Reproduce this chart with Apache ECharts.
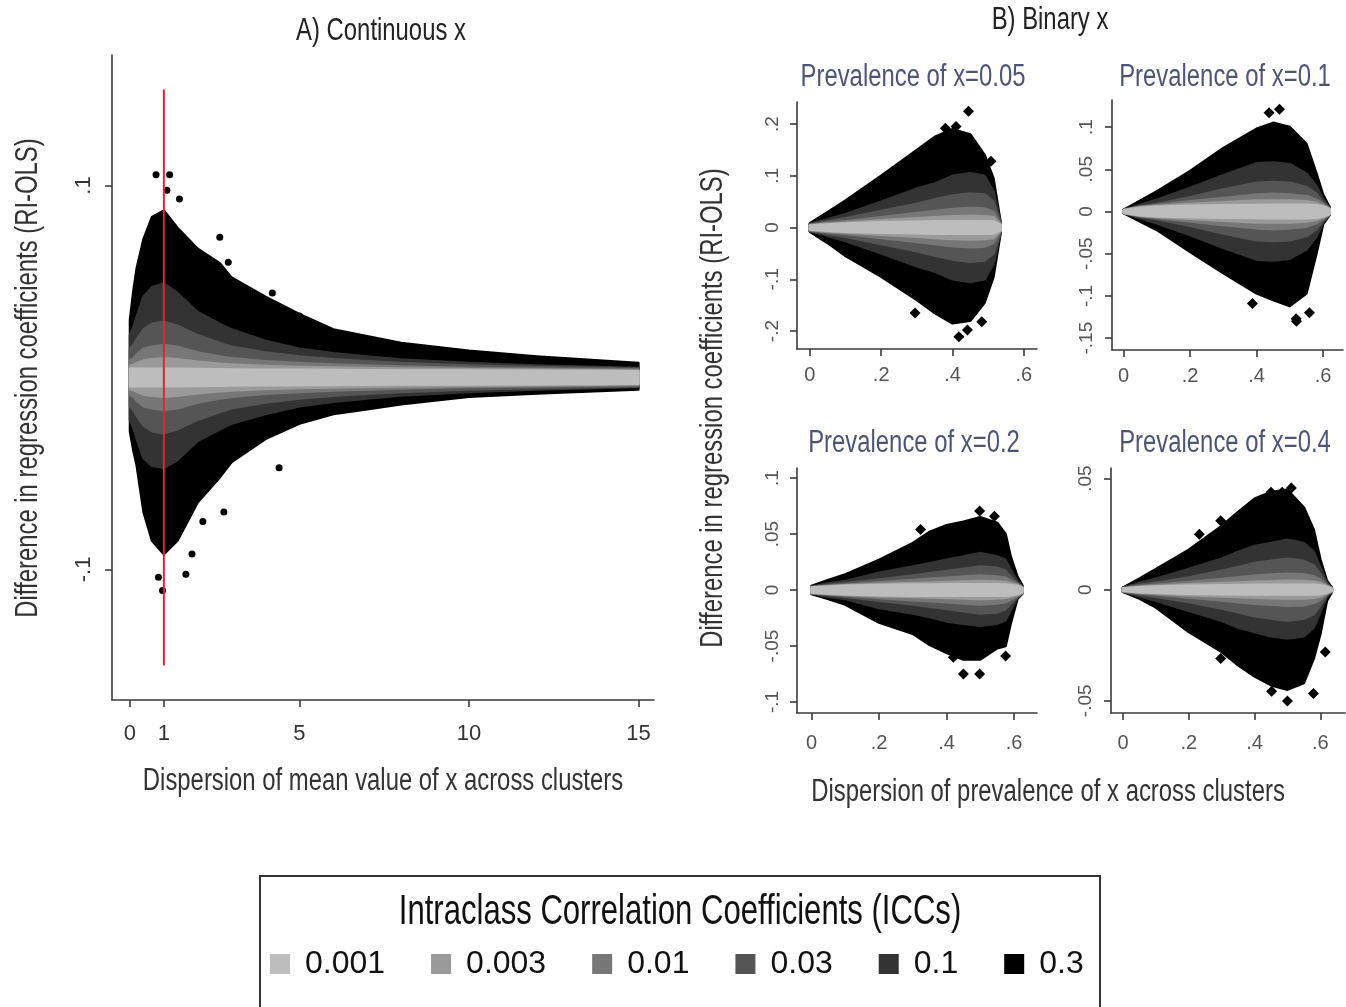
<!DOCTYPE html>
<html>
<head>
<meta charset="utf-8">
<script src="https://cdn.jsdelivr.net/npm/echarts@6/dist/echarts.min.js"></script>
<style>html,body{margin:0;padding:0;background:#fff}#c{width:1346px;height:1007px}</style>
</head>
<body>
<div id="c"></div>
<script>
// ---------- DATA ----------
const iccNames  = ['0.001', '0.003', '0.01', '0.03', '0.1', '0.3'];
const iccColors = ['#bdbdbd', '#9a9a9a', '#777777', '#555555', '#333333', '#000000'];

// Panel A (continuous x): envelopes [lower, upper] of each ICC cloud
const contX = [0, 0.1, 0.2, 0.4, 0.65, 1, 1.4, 2, 2.65, 3, 4, 5, 6, 7, 8, 10, 12, 15];
const cont_0_3 = [[-0.028,0.03],[-0.038,0.045],[-0.046,0.057],[-0.07,0.072],[-0.085,0.0835],[-0.092,0.087],[-0.085,0.078],[-0.065,0.067],[-0.052,0.0595],[-0.044,0.052],[-0.032,0.042],[-0.024,0.033],[-0.019,0.025],[-0.0165,0.0215],[-0.014,0.018],[-0.010,0.014],[-0.0084,0.011],[-0.0063,0.0076]];
const cont_0_1 = [[-0.022,0.022],[-0.026,0.026],[-0.032,0.032],[-0.042,0.042],[-0.046,0.047],[-0.047,0.049],[-0.043,0.044],[-0.033,0.034],[-0.027,0.028],[-0.024,0.025],[-0.019,0.019],[-0.015,0.015],[-0.0127,0.0127],[-0.011,0.011],[-0.0094,0.0094],[-0.0076,0.0076],[-0.0063,0.0063],[-0.005,0.005]];
const cont_0_03 = [[-0.015,0.015],[-0.017,0.017],[-0.02,0.02],[-0.025,0.025],[-0.028,0.028],[-0.029,0.029],[-0.027,0.027],[-0.022,0.022],[-0.018,0.018],[-0.016,0.016],[-0.013,0.013],[-0.011,0.011],[-0.0095,0.0095],[-0.0085,0.0085],[-0.0075,0.0075],[-0.0062,0.0062],[-0.0055,0.0055],[-0.0045,0.0045]];
const cont_0_01 = [[-0.009,0.009],[-0.01,0.01],[-0.012,0.012],[-0.015,0.015],[-0.016,0.016],[-0.017,0.017],[-0.016,0.016],[-0.013,0.013],[-0.011,0.011],[-0.01,0.01],[-0.0085,0.0085],[-0.0075,0.0075],[-0.0068,0.0068],[-0.0062,0.0062],[-0.0057,0.0057],[-0.005,0.005],[-0.0046,0.0046],[-0.004,0.004]];
const cont_0_003 = [[-0.006,0.006],[-0.0065,0.0065],[-0.0075,0.0075],[-0.0088,0.0088],[-0.0095,0.0095],[-0.01,0.01],[-0.0095,0.0095],[-0.0082,0.0082],[-0.0072,0.0072],[-0.0068,0.0068],[-0.006,0.006],[-0.0055,0.0055],[-0.0052,0.0052],[-0.005,0.005],[-0.0047,0.0047],[-0.0043,0.0043],[-0.004,0.004],[-0.0035,0.0035]];
const cont_0_001 = [[-0.0045,0.0045],[-0.0045,0.0045],[-0.0045,0.0045],[-0.0046,0.0046],[-0.0046,0.0046],[-0.0046,0.0046],[-0.0045,0.0045],[-0.0044,0.0044],[-0.0043,0.0043],[-0.0042,0.0042],[-0.004,0.004],[-0.004,0.004],[-0.0039,0.0039],[-0.0038,0.0038],[-0.0037,0.0037],[-0.0036,0.0036],[-0.0035,0.0035],[-0.0033,0.0033]];
const contOutliers = [[0.77,0.1056],[1.17,0.1056],[1.09,0.0975],[1.46,0.093],[2.65,0.073],[2.9,0.06],[4.2,0.044],[5.0,0.032],[0.96,-0.111],[0.84,-0.104],[1.65,-0.1025],[1.83,-0.092],[2.15,-0.075],[2.77,-0.07],[4.4,-0.047]];
const redLine = [[1, -0.15], [1, 0.15]];

// Panel B, prevalence 0.05
const p05X = [0, 0.05, 0.1, 0.2, 0.3, 0.35, 0.4, 0.45, 0.49, 0.515, 0.535];
const p05_0_3 = [[-0.008,0.008],[-0.03,0.03],[-0.055,0.052],[-0.095,0.1],[-0.14,0.15],[-0.165,0.175],[-0.185,0.19],[-0.18,0.18],[-0.145,0.14],[-0.095,0.095],[-0.01,0.01]];
const p05_0_1 = [[-0.007,0.007],[-0.016,0.016],[-0.026,0.026],[-0.05,0.05],[-0.075,0.075],[-0.085,0.085],[-0.1,0.1],[-0.105,0.105],[-0.1,0.1],[-0.07,0.07],[-0.01,0.01]];
const p05_0_03 = [[-0.006,0.006],[-0.012,0.012],[-0.018,0.018],[-0.032,0.032],[-0.046,0.046],[-0.054,0.054],[-0.062,0.062],[-0.066,0.066],[-0.064,0.064],[-0.05,0.05],[-0.008,0.008]];
const p05_0_01 = [[-0.005,0.005],[-0.009,0.009],[-0.012,0.012],[-0.02,0.02],[-0.028,0.028],[-0.032,0.032],[-0.036,0.036],[-0.038,0.038],[-0.037,0.037],[-0.03,0.03],[-0.007,0.007]];
const p05_0_003 = [[-0.0045,0.0045],[-0.0075,0.0075],[-0.0095,0.0095],[-0.014,0.014],[-0.018,0.018],[-0.02,0.02],[-0.022,0.022],[-0.023,0.023],[-0.022,0.022],[-0.02,0.02],[-0.006,0.006]];
const p05_0_001 = [[-0.004,0.004],[-0.006,0.006],[-0.008,0.008],[-0.01,0.01],[-0.011,0.011],[-0.012,0.012],[-0.012,0.012],[-0.012,0.012],[-0.012,0.012],[-0.012,0.012],[-0.005,0.005]];
const p05Outliers = [[0.445,0.2245],[0.38,0.192],[0.41,0.195],[0.508,0.128],[0.295,-0.165],[0.418,-0.211],[0.442,-0.198],[0.482,-0.182]];

// Panel B, prevalence 0.1
const p10X = [0, 0.05, 0.1, 0.2, 0.3, 0.4, 0.45, 0.5, 0.55, 0.58, 0.6, 0.62];
const p10_0_3 = [[-0.002,0.002],[-0.012,0.013],[-0.022,0.024],[-0.048,0.048],[-0.073,0.075],[-0.097,0.098],[-0.105,0.105],[-0.112,0.1],[-0.097,0.08],[-0.05,0.045],[-0.015,0.02],[-0.004,0.005]];
const p10_0_1 = [[-0.002,0.002],[-0.008,0.008],[-0.014,0.014],[-0.028,0.028],[-0.043,0.043],[-0.057,0.057],[-0.058,0.058],[-0.056,0.056],[-0.045,0.045],[-0.03,0.03],[-0.013,0.015],[-0.004,0.004]];
const p10_0_03 = [[-0.002,0.002],[-0.006,0.006],[-0.009,0.009],[-0.017,0.017],[-0.026,0.026],[-0.034,0.034],[-0.035,0.035],[-0.034,0.034],[-0.029,0.029],[-0.021,0.021],[-0.011,0.011],[-0.0035,0.0035]];
const p10_0_01 = [[-0.0018,0.0018],[-0.0055,0.0055],[-0.0075,0.0075],[-0.012,0.012],[-0.016,0.016],[-0.02,0.02],[-0.021,0.021],[-0.02,0.02],[-0.018,0.018],[-0.014,0.014],[-0.009,0.009],[-0.0032,0.0032]];
const p10_0_003 = [[-0.0016,0.0016],[-0.005,0.005],[-0.0065,0.0065],[-0.009,0.009],[-0.011,0.011],[-0.013,0.013],[-0.013,0.013],[-0.013,0.013],[-0.012,0.012],[-0.01,0.01],[-0.007,0.007],[-0.003,0.003]];
const p10_0_001 = [[-0.0015,0.0015],[-0.0045,0.0045],[-0.0055,0.0055],[-0.0068,0.0068],[-0.0074,0.0074],[-0.0078,0.0078],[-0.008,0.008],[-0.008,0.008],[-0.008,0.008],[-0.0075,0.0075],[-0.006,0.006],[-0.0028,0.0028]];
const p10Outliers = [[0.469,0.121],[0.4375,0.117],[0.519,-0.127],[0.52,-0.13],[0.559,-0.12],[0.3875,-0.109]];

// Panel B, prevalence 0.2
const p20X = [0, 0.05, 0.1, 0.2, 0.3, 0.35, 0.4, 0.45, 0.5, 0.55, 0.575, 0.59, 0.61, 0.625];
const p20_0_3 = [[-0.0036,0.0036],[-0.008,0.009],[-0.013,0.014],[-0.029,0.027],[-0.039,0.042],[-0.049,0.052],[-0.056,0.058],[-0.062,0.061],[-0.062,0.065],[-0.052,0.06],[-0.05,0.05],[-0.03,0.03],[-0.008,0.012],[-0.003,0.004]];
const p20_0_1 = [[-0.003,0.003],[-0.006,0.006],[-0.008,0.008],[-0.016,0.0155],[-0.021,0.021],[-0.024,0.024],[-0.028,0.027],[-0.03,0.03],[-0.032,0.033],[-0.03,0.03],[-0.027,0.027],[-0.018,0.018],[-0.007,0.008],[-0.003,0.003]];
const p20_0_03 = [[-0.0028,0.0028],[-0.0045,0.0045],[-0.006,0.006],[-0.0095,0.0095],[-0.013,0.013],[-0.015,0.015],[-0.017,0.017],[-0.019,0.019],[-0.021,0.021],[-0.02,0.02],[-0.017,0.017],[-0.012,0.012],[-0.006,0.006],[-0.0025,0.0025]];
const p20_0_01 = [[-0.0026,0.0026],[-0.0038,0.0038],[-0.0048,0.0048],[-0.007,0.007],[-0.009,0.009],[-0.01,0.01],[-0.011,0.011],[-0.012,0.012],[-0.013,0.013],[-0.012,0.012],[-0.011,0.011],[-0.0085,0.0085],[-0.0055,0.0055],[-0.0024,0.0024]];
const p20_0_003 = [[-0.0024,0.0024],[-0.0035,0.0035],[-0.0042,0.0042],[-0.0055,0.0055],[-0.0062,0.0062],[-0.0066,0.0066],[-0.0072,0.0072],[-0.0076,0.0076],[-0.008,0.008],[-0.0076,0.0076],[-0.0072,0.0072],[-0.006,0.006],[-0.0045,0.0045],[-0.0022,0.0022]];
const p20_0_001 = [[-0.0022,0.0022],[-0.003,0.003],[-0.0038,0.0038],[-0.0046,0.0046],[-0.005,0.005],[-0.005,0.005],[-0.0052,0.0052],[-0.0052,0.0052],[-0.0052,0.0052],[-0.0052,0.0052],[-0.005,0.005],[-0.0046,0.0046],[-0.0036,0.0036],[-0.002,0.002]];
const p20Outliers = [[0.498,0.0705],[0.542,0.066],[0.323,0.054],[0.45,-0.075],[0.498,-0.075],[0.575,-0.059],[0.42,-0.06]];

// Panel B, prevalence 0.4
const p40X = [0, 0.05, 0.1, 0.2, 0.3, 0.35, 0.4, 0.45, 0.5, 0.55, 0.58, 0.6, 0.62, 0.635];
const p40_0_3 = [[-0.001,0.001],[-0.004,0.005],[-0.008,0.0093],[-0.019,0.018],[-0.028,0.0287],[-0.034,0.035],[-0.039,0.041],[-0.043,0.044],[-0.045,0.045],[-0.042,0.037],[-0.031,0.027],[-0.02,0.0137],[-0.005,0.004],[-0.001,0.001]];
const p40_0_1 = [[-0.0009,0.0009],[-0.003,0.003],[-0.005,0.005],[-0.0095,0.0093],[-0.014,0.014],[-0.017,0.017],[-0.019,0.0197],[-0.021,0.021],[-0.022,0.0225],[-0.021,0.021],[-0.017,0.017],[-0.01,0.01],[-0.003,0.003],[-0.001,0.001]];
const p40_0_03 = [[-0.0008,0.0008],[-0.0022,0.0022],[-0.0032,0.0032],[-0.0055,0.0055],[-0.0085,0.0085],[-0.0102,0.0102],[-0.012,0.012],[-0.013,0.013],[-0.014,0.014],[-0.013,0.013],[-0.011,0.011],[-0.007,0.007],[-0.0025,0.0025],[-0.0008,0.0008]];
const p40_0_01 = [[-0.0007,0.0007],[-0.0016,0.0016],[-0.0022,0.0022],[-0.0035,0.0035],[-0.0048,0.0048],[-0.0056,0.0056],[-0.0063,0.0063],[-0.0068,0.0068],[-0.0072,0.0072],[-0.007,0.007],[-0.006,0.006],[-0.0045,0.0045],[-0.002,0.002],[-0.0007,0.0007]];
const p40_0_003 = [[-0.0006,0.0006],[-0.0013,0.0013],[-0.0017,0.0017],[-0.0025,0.0025],[-0.003,0.003],[-0.0033,0.0033],[-0.0036,0.0036],[-0.0038,0.0038],[-0.004,0.004],[-0.0039,0.0039],[-0.0036,0.0036],[-0.003,0.003],[-0.0016,0.0016],[-0.0006,0.0006]];
const p40_0_001 = [[-0.0005,0.0005],[-0.0011,0.0011],[-0.0014,0.0014],[-0.0018,0.0018],[-0.002,0.002],[-0.0021,0.0021],[-0.0022,0.0022],[-0.0022,0.0022],[-0.0022,0.0022],[-0.0022,0.0022],[-0.0022,0.0022],[-0.002,0.002],[-0.0013,0.0013],[-0.0005,0.0005]];
const p40Outliers = [[0.512,0.0458],[0.45,0.0439],[0.484,0.0439],[0.297,0.031],[0.232,0.025],[0.5,-0.0501],[0.452,-0.0457],[0.579,-0.0467],[0.615,-0.028],[0.297,-0.031]];

// Tick values and labels
const contXTicks = [0, 1, 5, 10, 15],              contXLabels = ['0', '1', '5', '10', '15'];
const contYTicks = [-0.1, 0.1],                    contYLabels = ['-.1', '.1'];
const binXTicks  = [0, 0.2, 0.4, 0.6],             binXLabels  = ['0', '.2', '.4', '.6'];
const p05YTicks  = [-0.2, -0.1, 0, 0.1, 0.2],      p05YLabels  = ['-.2', '-.1', '0', '.1', '.2'];
const p10YTicks  = [-0.15, -0.1, -0.05, 0, 0.05, 0.1], p10YLabels = ['-.15', '-.1', '-.05', '0', '.05', '.1'];
const p20YTicks  = [-0.1, -0.05, 0, 0.05, 0.1],    p20YLabels  = ['-.1', '-.05', '0', '.05', '.1'];
const p40YTicks  = [-0.05, 0, 0.05],               p40YLabels  = ['-.05', '0', '.05'];

// ---------- CHART ----------
const FONT = "'Liberation Sans', Arial, sans-serif";
const chart = echarts.init(document.getElementById('c'), null, {renderer: 'canvas'});

function fmt(ticks, labels) {
  return function (v) {
    for (let i = 0; i < ticks.length; i++) if (Math.abs(ticks[i] - v) < 1e-9) return labels[i];
    return '';
  };
}

const grids = [
  {left: 112, top: 55, width: 542, height: 645},
  {left: 797, top: 102, width: 240, height: 247},
  {left: 1112, top: 100, width: 231, height: 250},
  {left: 797, top: 468, width: 240, height: 245},
  {left: 1111, top: 468, width: 234, height: 245}
].map(g => Object.assign({containLabel: false, outerBoundsMode: 'none'}, g));

const ranges = [
  {x: [-0.53, 15.46], y: [-0.168, 0.168], xt: contXTicks, xl: contXLabels, yt: contYTicks, yl: contYLabels, lc: '#333', fs: 22, yfs: 22, xm: 23, ym: 17},
  {x: [-0.036, 0.637], y: [-0.2346, 0.2425], xt: binXTicks, xl: binXLabels, yt: p05YTicks, yl: p05YLabels, lc: '#555', fs: 20, yfs: 19, xm: 16, ym: 15},
  {x: [-0.035, 0.66], y: [-0.164, 0.132], xt: binXTicks, xl: binXLabels, yt: p10YTicks, yl: p10YLabels, lc: '#555', fs: 20, yfs: 19, xm: 16, ym: 16},
  {x: [-0.043, 0.668], y: [-0.1098, 0.109], xt: binXTicks, xl: binXLabels, yt: p20YTicks, yl: p20YLabels, lc: '#555', fs: 20, yfs: 19, xm: 20, ym: 15},
  {x: [-0.0365, 0.675], y: [-0.0555, 0.0548], xt: binXTicks, xl: binXLabels, yt: p40YTicks, yl: p40YLabels, lc: '#555', fs: 20, yfs: 19, xm: 20, ym: 16}
];

const axisLine = {show: true, onZero: false, lineStyle: {color: '#3a3a3a', width: 1.6}};
const xAxes = ranges.map((r, i) => ({
  type: 'value', gridIndex: i, min: r.x[0], max: r.x[1],
  axisLine: axisLine,
  axisTick: {show: true, customValues: r.xt, length: 7, lineStyle: {color: '#3a3a3a', width: 1.6}},
  axisLabel: {customValues: r.xt, formatter: fmt(r.xt, r.xl), color: r.lc, fontSize: r.fs, fontFamily: FONT, margin: r.xm},
  splitLine: {show: false}
}));
const yAxes = ranges.map((r, i) => ({
  type: 'value', gridIndex: i, min: r.y[0], max: r.y[1],
  axisLine: axisLine,
  axisTick: {show: true, customValues: r.yt, length: 7, lineStyle: {color: '#3a3a3a', width: 1.6}},
  axisLabel: {customValues: r.yt, formatter: fmt(r.yt, r.yl), color: r.lc, fontSize: r.yfs, fontFamily: FONT, rotate: 90, margin: r.ym},
  splitLine: {show: false}
}));

function band(name, color, idx, xs, env) {
  return {
    type: 'custom', name: name, xAxisIndex: idx, yAxisIndex: idx,
    coordinateSystem: 'cartesian2d', clip: false, silent: true, animation: false,
    itemStyle: {color: color},
    data: xs.map((x, i) => [x, env[i][0], env[i][1]]),
    encode: {x: 0, y: [1, 2]},
    renderItem: function (params, api) {
      if (params.dataIndex !== 0) return;
      const pts = [];
      for (let i = 0; i < xs.length; i++) pts.push(api.coord([xs[i], env[i][1]]));
      for (let i = xs.length - 1; i >= 0; i--) pts.push(api.coord([xs[i], env[i][0]]));
      return {type: 'polygon', shape: {points: pts},
              style: {fill: color, stroke: color, lineWidth: 2.5, lineJoin: 'round'}};
    }
  };
}
function outliers(idx, pts, sym, size) {
  return {type: 'scatter', name: 'outliers', xAxisIndex: idx, yAxisIndex: idx, data: pts,
          symbol: sym, symbolSize: size, itemStyle: {color: '#000', opacity: 1}, silent: true, animation: false};
}

const panels = [
  {idx: 0, xs: contX, env: [cont_0_001, cont_0_003, cont_0_01, cont_0_03, cont_0_1, cont_0_3], out: contOutliers, sym: 'circle', size: 7},
  {idx: 1, xs: p05X, env: [p05_0_001, p05_0_003, p05_0_01, p05_0_03, p05_0_1, p05_0_3], out: p05Outliers, sym: 'diamond', size: 11},
  {idx: 2, xs: p10X, env: [p10_0_001, p10_0_003, p10_0_01, p10_0_03, p10_0_1, p10_0_3], out: p10Outliers, sym: 'diamond', size: 11},
  {idx: 3, xs: p20X, env: [p20_0_001, p20_0_003, p20_0_01, p20_0_03, p20_0_1, p20_0_3], out: p20Outliers, sym: 'diamond', size: 11},
  {idx: 4, xs: p40X, env: [p40_0_001, p40_0_003, p40_0_01, p40_0_03, p40_0_1, p40_0_3], out: p40Outliers, sym: 'diamond', size: 11}
];

const series = [];
panels.forEach(p => {
  series.push(outliers(p.idx, p.out, p.sym, p.size));
  for (let k = iccNames.length - 1; k >= 0; k--) {
    series.push(band(iccNames[k], iccColors[k], p.idx, p.xs, p.env[k]));
  }
});
series.push({type: 'line', name: 'reference', xAxisIndex: 0, yAxisIndex: 0, data: redLine, symbol: 'none', z: 5,
             lineStyle: {color: '#d42a35', width: 2}, silent: true, animation: false});

// text drawn in Liberation Sans, squeezed horizontally to mimic the narrow typeface of the original
function txt(x, y, s, size, color, rot, sx) {
  return {type: 'text', x: x, y: y, rotation: rot || 0, scaleX: sx || 0.77, silent: true,
          style: {text: s, fontSize: size, fontFamily: FONT, fill: color, align: 'center', verticalAlign: 'middle'}};
}

chart.setOption({
  animation: false,
  backgroundColor: '#ffffff',
  grid: grids,
  xAxis: xAxes,
  yAxis: yAxes,
  series: series,
  legend: {
    data: iccNames, left: 270, top: 948, orient: 'horizontal', selectedMode: false, padding: 0,
    icon: 'rect', itemWidth: 20, itemHeight: 20, itemGap: 46,
    textStyle: {fontSize: 32, fontFamily: FONT, color: '#111', padding: [0, 0, 0, 10]}
  },
  graphic: [
    txt(381, 31, 'A) Continuous x', 31, '#222'),
    txt(1050, 20, 'B) Binary x', 31, '#222'),
    txt(913, 77, 'Prevalence of x=0.05', 31, '#4d5577'),
    txt(1225, 77, 'Prevalence of x=0.1', 31, '#4d5577'),
    txt(914, 443, 'Prevalence of x=0.2', 31, '#4d5577'),
    txt(1225, 443, 'Prevalence of x=0.4', 31, '#4d5577'),
    txt(28, 378, 'Difference in regression coefficients (RI-OLS)', 31, '#333', Math.PI / 2),
    txt(383, 781, 'Dispersion of mean value of x across clusters', 31, '#333'),
    txt(713, 408, 'Difference in regression coefficients (RI-OLS)', 31, '#333', Math.PI / 2),
    txt(1048, 792, 'Dispersion of prevalence of x across clusters', 31, '#333'),
    {type: 'rect', silent: true, shape: {x: 260, y: 876, width: 840, height: 150},
     style: {fill: 'none', stroke: '#333', lineWidth: 2}},
    txt(680, 912, 'Intraclass Correlation Coefficients (ICCs)', 42, '#111', 0, 0.74)
  ]
});
</script>
</body>
</html>
